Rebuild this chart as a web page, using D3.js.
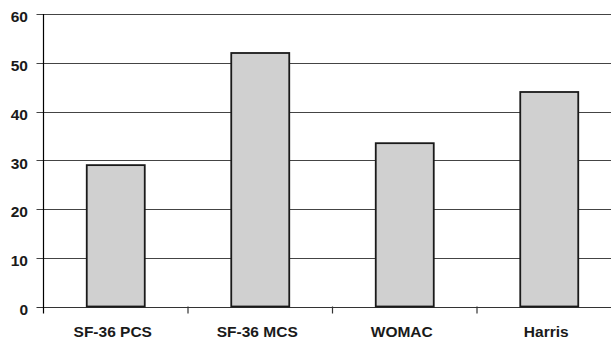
<!DOCTYPE html>
<html><head><meta charset="utf-8">
<script src="https://cdn.jsdelivr.net/npm/d3@7"></script>
<style>body{margin:0;background:#fff}svg{display:block}text{font-family:"Liberation Sans",Arial,sans-serif;font-weight:bold;font-size:15.5px;fill:#1a1a1a}</style>
</head><body><svg id="c" width="611" height="339"></svg>
<script>
const categories = ["SF-36 PCS", "SF-36 MCS", "WOMAC", "Harris"];
const values = [29, 52, 33.5, 44];
const yTicks = [0, 10, 20, 30, 40, 50, 60];

(function () {
const svg = d3.select("#c");
const mLeft = 43.5, mRight = 621.5, mTop = 14, mBottom = 306.5;
const x = d3.scaleBand().domain(categories).range([mLeft, mRight]).paddingInner(0).paddingOuter(0);
const y = d3.scaleLinear().domain([0, 60]).range([mBottom, mTop]);
const barW = 58;

// gridlines
svg.append("g").selectAll("line").data(yTicks).join("line")
  .attr("x1", mLeft - 7).attr("x2", 611)
  .attr("y1", d => Math.round(y(d)) + 0.5).attr("y2", d => Math.round(y(d)) + 0.5)
  .attr("stroke", d => d === 0 ? "#333" : "#444").attr("stroke-width", 1.2);

// bars
svg.append("g").selectAll("rect").data(values).join("rect")
  .attr("x", (d, i) => x(categories[i]) + x.bandwidth() / 2 - barW / 2)
  .attr("width", barW)
  .attr("y", d => y(d))
  .attr("height", d => mBottom - y(d))
  .attr("fill", "#d0d0d0").attr("stroke", "#1a1a1a").attr("stroke-width", 1.8);

// y axis
const yAxis = d3.axisLeft(y).tickValues(yTicks).tickSize(7).tickPadding(8.5).tickFormat(d3.format("d"));
const gy = svg.append("g").attr("transform", `translate(${mLeft},0)`).call(yAxis);
gy.select(".domain").remove();
gy.selectAll(".tick line").remove();
gy.selectAll("text").attr("font-size", null).attr("font-family", null).attr("fill", "#1a1a1a").attr("dy", "0.5em");
svg.append("line").attr("x1", mLeft).attr("x2", mLeft).attr("y1", mTop).attr("y2", mBottom + 7)
  .attr("stroke", "#000").attr("stroke-width", 1.2);

// x axis
const xAxis = d3.axisBottom(x).tickSize(0).tickPadding(0);
const gx = svg.append("g").attr("transform", `translate(0,${mBottom})`).call(xAxis);
gx.select(".domain").remove();
gx.selectAll("text").attr("font-size", null).attr("font-family", null).attr("fill", "#1a1a1a")
  .attr("y", 30).attr("dy", null).attr("dx", -3);
// category separator ticks
svg.append("g").selectAll("line").data(categories.slice(1)).join("line")
  .attr("x1", d => x(d)).attr("x2", d => x(d))
  .attr("y1", mBottom).attr("y2", mBottom + 7)
  .attr("stroke", "#333").attr("stroke-width", 1.2);
})();
</script></body></html>
